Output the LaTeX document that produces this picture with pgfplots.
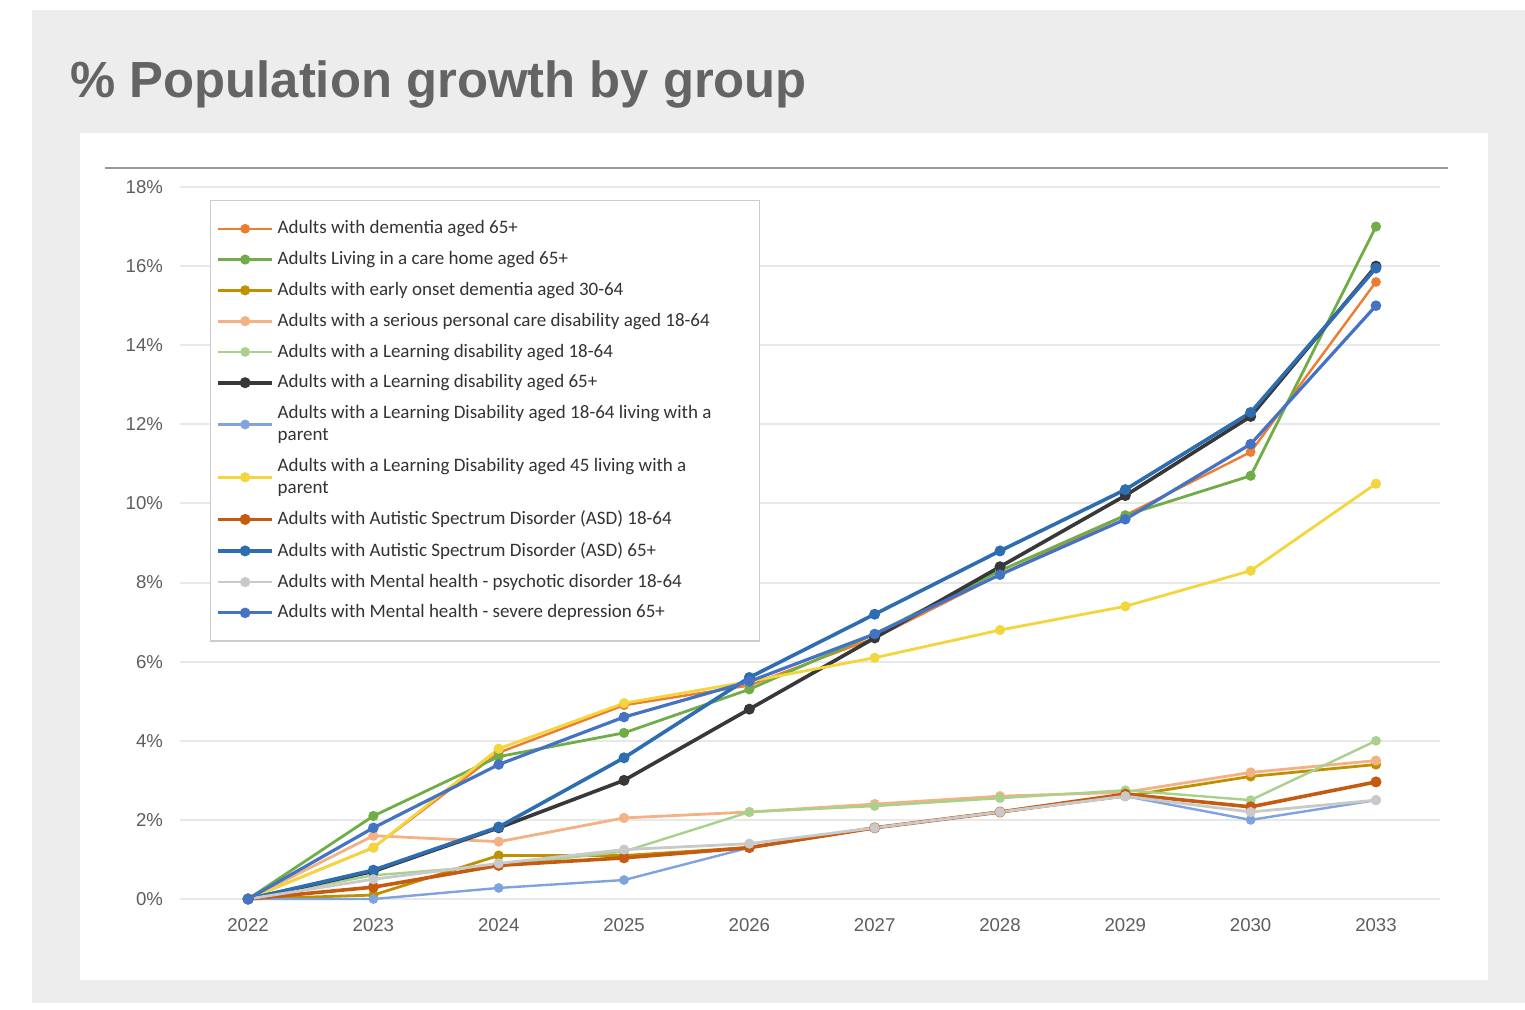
\documentclass[border=0pt]{standalone}
\usepackage{pgfplots}
\pgfplotsset{compat=1.18}
\usepackage{fontspec}
\setmainfont{Carlito}
\newfontfamily\titlefont{Liberation Sans}
\newfontfamily\tickfont{Liberation Sans}
\definecolor{bggray}{HTML}{EDEDED}
\definecolor{gridgray}{HTML}{E8E8E8}
\definecolor{titlegray}{HTML}{646464}
\definecolor{tickgray}{HTML}{5E5E5E}
\definecolor{cDem}{HTML}{ED7D31}
\definecolor{cCare}{HTML}{70AD47}
\definecolor{cEarly}{HTML}{BF9000}
\definecolor{cPers}{HTML}{F4B183}
\definecolor{cLD}{HTML}{A9D18E}
\definecolor{cLDold}{HTML}{383838}
\definecolor{cLDpar}{HTML}{7FA3DE}
\definecolor{cLDpar45}{HTML}{F5D53C}
\definecolor{cASD}{HTML}{C55A11}
\definecolor{cASDold}{HTML}{2E6DB0}
\definecolor{cPsy}{HTML}{C9C9C9}
\definecolor{cDep}{HTML}{4472C4}
\begin{document}
\begin{tikzpicture}
\begin{scope}[x=0.5pt,y=-0.5pt]
\fill[white] (0,0) rectangle (1525,1009);
\fill[bggray] (32,10) rectangle (1525,1003);
\fill[white] (80,133) rectangle (1488,980);
\draw[color=gray!80, line width=0.8pt] (105,168) -- (1448,168);
\node[anchor=base west, inner sep=0pt, text=titlegray, font=\titlefont\bfseries\fontsize{25.4}{30}\selectfont] at (70,97) {\% Population growth by group};
\end{scope}
\begin{axis}[
  at={(90pt,-449.5pt)}, anchor=south west,
  scale only axis, width=630pt, height=356pt,
  xmin=-0.543, xmax=9.511, ymin=0, ymax=18,
  clip=false,
  axis line style={draw=none},
  tick style={draw=none},
  ymajorgrids, grid style={color=gridgray, line width=1pt},
  xtick={0,1,2,3,4,5,6,7,8,9},
  xticklabels={2022,2023,2024,2025,2026,2027,2028,2029,2030,2033},
  ytick={0,2,4,6,8,10,12,14,16,18},
  yticklabel={\pgfmathprintnumber{\tick}\%},
  /pgf/number format/assume math mode=true,
  ticklabel style={font=\tickfont\fontsize{9.3}{11}\selectfont, text=tickgray},
  xticklabel style={yshift=-6pt},
  yticklabel style={xshift=-5pt},
  every axis plot/.append style={mark=*, mark size=1.8pt, line width=1.2pt},
  legend image code/.code={\draw[mark repeat=2,mark phase=2] plot coordinates {(0cm,0cm) (0.47cm,0cm) (0.94cm,0cm)};},
  legend style={at={(0.0238,0.9817)}, anchor=north west, draw=black!20, line width=0.6pt, fill=white,
    font=\fontsize{9.5}{11}\selectfont, text=black!80,
    cells={anchor=west, align=left}, row sep=3.3pt, inner xsep=3pt, inner ysep=8pt},
]
\addplot[color=cDem] coordinates {(0,0) (1,1.3) (2,3.7) (3,4.9) (4,5.4) (5,6.6) (6,8.2) (7,9.7) (8,11.3) (9,15.6)};
\addlegendentry{Adults with dementia aged 65+}
\addplot[color=cCare, line width=1.4pt] coordinates {(0,0) (1,2.1) (2,3.6) (3,4.2) (4,5.3) (5,6.7) (6,8.3) (7,9.7) (8,10.7) (9,17.0)};
\addlegendentry{Adults Living in a care home aged 65+}
\addplot[color=cEarly, line width=1.4pt] coordinates {(0,0) (1,0.1) (2,1.1) (3,1.1) (4,1.3) (5,1.8) (6,2.2) (7,2.6) (8,3.1) (9,3.4)};
\addlegendentry{Adults with early onset dementia aged 30-64}
\addplot[color=cPers, line width=1.4pt] coordinates {(0,0) (1,1.6) (2,1.45) (3,2.05) (4,2.2) (5,2.4) (6,2.6) (7,2.7) (8,3.2) (9,3.5)};
\addlegendentry{Adults with a serious personal care disability aged 18-64\hspace*{20pt}}
\addplot[color=cLD] coordinates {(0,0) (1,0.6) (2,0.85) (3,1.2) (4,2.2) (5,2.35) (6,2.55) (7,2.75) (8,2.5) (9,4.0)};
\addlegendentry{Adults with a Learning disability aged 18-64}
\addplot[color=cLDold, line width=1.8pt] coordinates {(0,0) (1,0.7) (2,1.8) (3,3.0) (4,4.8) (5,6.6) (6,8.4) (7,10.2) (8,12.2) (9,16.0)};
\addlegendentry{Adults with a Learning disability aged 65+}
\addplot[color=cLDpar] coordinates {(0,0) (1,0.0) (2,0.28) (3,0.48) (4,1.3) (5,1.8) (6,2.2) (7,2.6) (8,2.0) (9,2.5)};
\addlegendentry{Adults with a Learning Disability aged 18-64 living with a\\parent}
\addplot[color=cLDpar45, line width=1.4pt] coordinates {(0,0) (1,1.3) (2,3.8) (3,4.95) (4,5.5) (5,6.1) (6,6.8) (7,7.4) (8,8.3) (9,10.5)};
\addlegendentry{Adults with a Learning Disability aged 45 living with a\\parent}
\addplot[color=cASD, line width=1.8pt] coordinates {(0,0) (1,0.3) (2,0.85) (3,1.04) (4,1.3) (5,1.8) (6,2.2) (7,2.65) (8,2.33) (9,2.96)};
\addlegendentry{Adults with Autistic Spectrum Disorder (ASD) 18-64}
\addplot[color=cASDold, line width=1.8pt] coordinates {(0,0) (1,0.73) (2,1.82) (3,3.57) (4,5.6) (5,7.2) (6,8.8) (7,10.35) (8,12.3) (9,15.95)};
\addlegendentry{Adults with Autistic Spectrum Disorder (ASD) 65+}
\addplot[color=cPsy, line width=1.4pt] coordinates {(0,0) (1,0.5) (2,0.9) (3,1.25) (4,1.4) (5,1.8) (6,2.2) (7,2.6) (8,2.2) (9,2.5)};
\addlegendentry{Adults with Mental health - psychotic disorder 18-64}
\addplot[color=cDep, line width=1.6pt] coordinates {(0,0) (1,1.8) (2,3.4) (3,4.6) (4,5.5) (5,6.7) (6,8.2) (7,9.6) (8,11.5) (9,15.0)};
\addlegendentry{Adults with Mental health - severe depression 65+}
\end{axis}
\end{tikzpicture}
\end{document}
